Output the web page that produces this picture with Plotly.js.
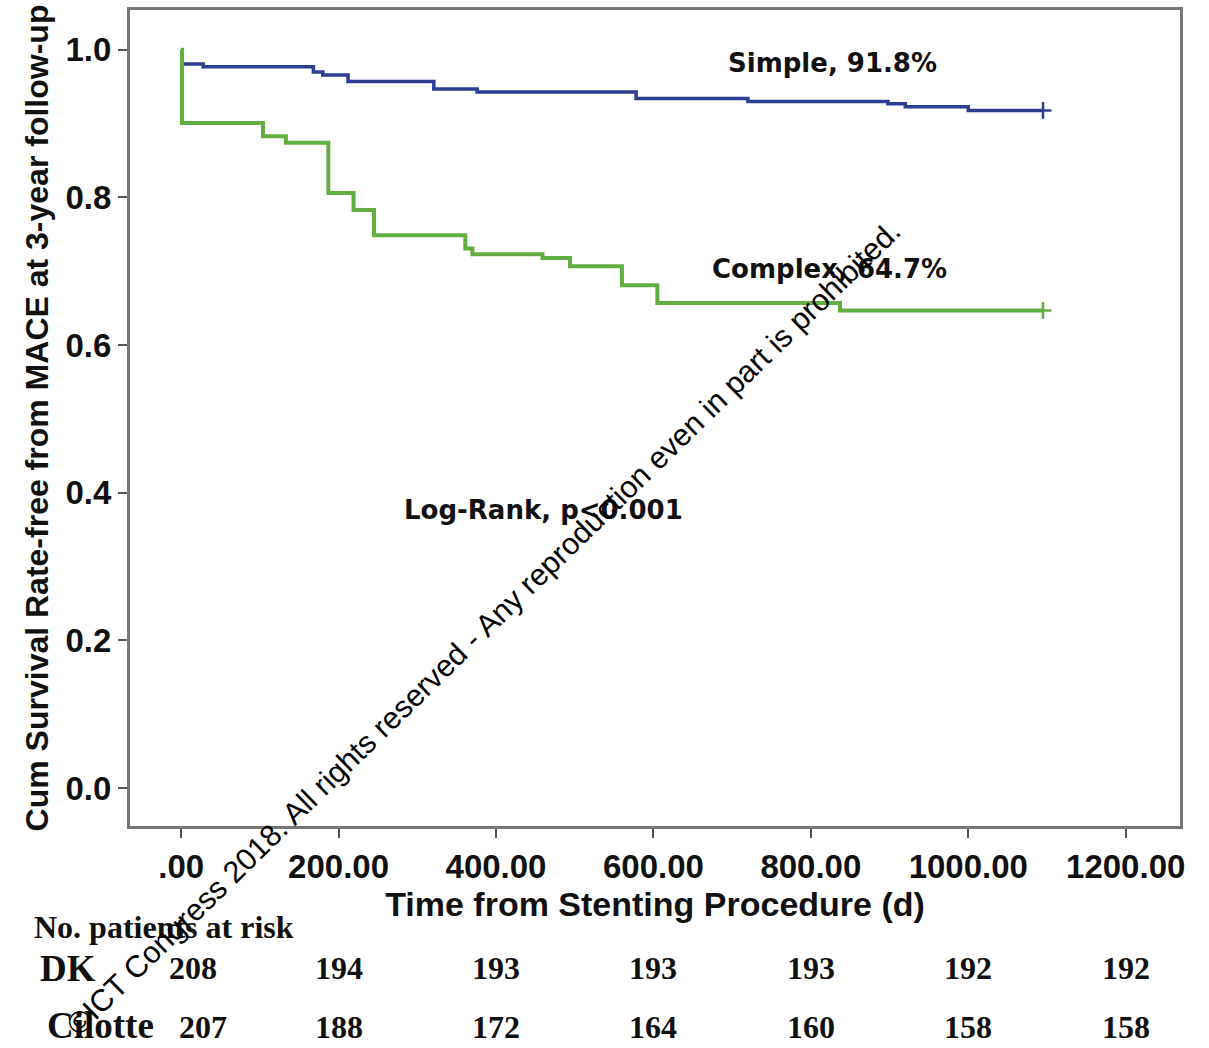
<!DOCTYPE html>
<html>
<head>
<meta charset="utf-8">
<script src="https://cdn.plot.ly/plotly-3.0.1.min.js"></script>
<style>html,body{margin:0;padding:0;background:#fff;}#chart{width:1209px;height:1048px;}</style>
</head>
<body>
<div id="chart"></div>
<script>
// Kaplan-Meier step data
const simpleDays = [0, 1, 28, 168, 180, 212, 321, 376, 578, 720, 898, 920, 1000, 1095];
const simpleSurv = [1.0, 0.981, 0.977, 0.970, 0.966, 0.957, 0.947, 0.943, 0.934, 0.930, 0.927, 0.923, 0.918, 0.918];
const complexDays = [0, 1, 104, 133, 187, 219, 245, 361, 370, 459, 494, 560, 605, 837, 1095];
const complexSurv = [1.0, 0.901, 0.883, 0.874, 0.806, 0.783, 0.749, 0.731, 0.723, 0.718, 0.707, 0.681, 0.657, 0.647, 0.647];

const xTickVals = [0, 200, 400, 600, 800, 1000, 1200];
const xTickText = ['.00', '200.00', '400.00', '600.00', '800.00', '1000.00', '1200.00'];
const yTickVals = [0, 0.2, 0.4, 0.6, 0.8, 1.0];
const yTickText = ['0.0', '0.2', '0.4', '0.6', '0.8', '1.0'];

const riskTimes = [0, 200, 400, 600, 800, 1000, 1200];
const riskGroups = ['DK', 'Cilotte'];
const riskDK = [208, 194, 193, 193, 193, 192, 192];
const riskCilotte = [207, 188, 172, 164, 160, 158, 158];

const blue = '#2d3d92';
const green = '#63ae42';

const traces = [
  {x: simpleDays, y: simpleSurv, mode: 'lines', line: {shape: 'hv', color: blue, width: 3.5}, hoverinfo: 'skip', showlegend: false},
  {x: complexDays, y: complexSurv, mode: 'lines', line: {shape: 'hv', color: green, width: 4}, hoverinfo: 'skip', showlegend: false},
  {x: [simpleDays[simpleDays.length-1]], y: [simpleSurv[simpleSurv.length-1]], mode: 'markers',
   marker: {symbol: 'cross-thin', size: 12, line: {color: blue, width: 2.5}}, hoverinfo: 'skip', showlegend: false},
  {x: [complexDays[complexDays.length-1]], y: [complexSurv[complexSurv.length-1]], mode: 'markers',
   marker: {symbol: 'cross-thin', size: 12, line: {color: green, width: 2.5}}, hoverinfo: 'skip', showlegend: false}
];

const boldSans = {family: 'Liberation Sans, Arial, sans-serif', size: 33, color: '#111', weight: 'bold'};
const annFont = {family: 'DejaVu Sans, sans-serif', size: 26, color: '#111', weight: 'bold'};
const tableFont = {family: 'Liberation Serif, Times New Roman, serif', size: 32, color: '#111', weight: 'bold'};
const rowFont = {family: 'Liberation Serif, Times New Roman, serif', size: 37, color: '#111', weight: 'bold'};
const rowFont2 = {family: 'Liberation Serif, Times New Roman, serif', size: 37, color: '#111', weight: 'bold'};

const annotations = [
  {x: 827, y: 0.982, xref: 'x', yref: 'y', text: 'Simple, 91.8%', showarrow: false, font: annFont},
  {x: 824, y: 0.703, xref: 'x', yref: 'y', text: 'Complex, 64.7%', showarrow: false, font: annFont},
  {x: 460, y: 0.377, xref: 'x', yref: 'y', text: 'Log-Rank, p&lt;0.001', showarrow: false, font: annFont},
  {x: 0, xref: 'paper', xanchor: 'left', xshift: -98, y: 0, yref: 'paper', yshift: -101, yanchor: 'middle',
   text: 'No. patients at risk', showarrow: false, font: tableFont},
  {x: 0, xref: 'paper', xanchor: 'left', xshift: -92, y: 0, yref: 'paper', yshift: -142, yanchor: 'middle',
   text: riskGroups[0], showarrow: false, font: rowFont},
  {x: 0, xref: 'paper', xanchor: 'left', xshift: -85, y: 0, yref: 'paper', yshift: -199, yanchor: 'middle',
   text: riskGroups[1], showarrow: false, font: rowFont2},
  {x: 0.337, y: 0.243, xref: 'paper', yref: 'paper', xanchor: 'center', yanchor: 'middle',
   text: '©ICT Congress 2018. All rights reserved - Any reproduction even in part is prohibited.',
   textangle: -44.3, showarrow: false, font: {family: 'Liberation Sans, Arial, sans-serif', size: 30.5, color: '#000'}}
];
riskTimes.forEach((t, i) => {
  annotations.push({x: t, xref: 'x', y: 0, yref: 'paper', yanchor: 'middle', yshift: -142, xshift: i === 0 ? 12 : 0,
    text: String(riskDK[i]), showarrow: false, font: tableFont});
  annotations.push({x: t, xref: 'x', y: 0, yref: 'paper', yanchor: 'middle', yshift: -201, xshift: i === 0 ? 22 : 0,
    text: String(riskCilotte[i]), showarrow: false, font: tableFont});
});

const layout = {
  width: 1209, height: 1048,
  margin: {l: 130, r: 29, t: 10, b: 222, pad: 0},
  paper_bgcolor: '#fff', plot_bgcolor: '#fff',
  showlegend: false,
  xaxis: {
    range: [-65, 1269], tickvals: xTickVals, ticktext: xTickText,
    ticks: 'outside', ticklen: 9, tickwidth: 2, tickcolor: '#555',
    showline: true, linecolor: '#777', linewidth: 3, mirror: true,
    showgrid: false, zeroline: false, tickfont: boldSans,
    title: {text: 'Time from Stenting Procedure (d)', font: Object.assign({}, boldSans, {size: 34}), standoff: 6}
  },
  yaxis: {
    range: [-0.0515, 1.054], tickvals: yTickVals, ticktext: yTickText,
    ticks: 'outside', ticklen: 9, tickwidth: 2, tickcolor: '#555',
    showline: true, linecolor: '#777', linewidth: 3, mirror: true,
    showgrid: false, zeroline: false, tickfont: boldSans,
    title: {text: 'Cum Survival Rate-free from MACE at 3-year follow-up', font: Object.assign({}, boldSans, {size: 32}), standoff: 8}
  },
  annotations: annotations
};

Plotly.newPlot('chart', traces, layout, {staticPlot: true, displayModeBar: false});
</script>
</body>
</html>
